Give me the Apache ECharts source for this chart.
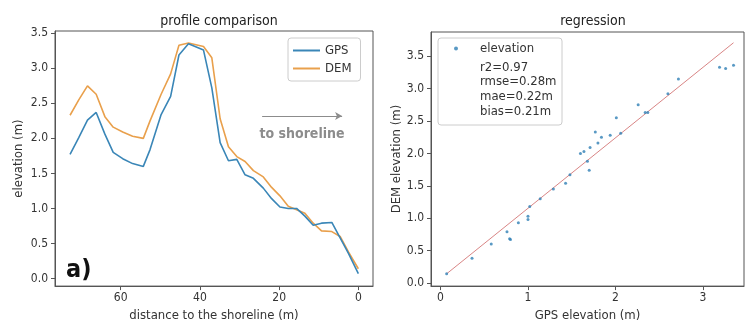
<!DOCTYPE html>
<html>
<head>
<meta charset="utf-8">
<script src="https://cdn.jsdelivr.net/npm/echarts@6/dist/echarts.min.js"></script>
<style>
  html, body { margin: 0; padding: 0; background: #fff; }
  #chart { width: 747px; height: 327px; }
</style>
</head>
<body>
<div id="chart"></div>
<script>
// Cross-shore profile: distance to the shoreline (m) and elevations (m)
const distance = [72.8, 70.6, 68.4, 66.2, 64.0, 61.9, 59.5, 57.0, 54.3, 52.6, 49.8, 47.4, 45.3, 42.9, 39.1, 37.0,
                  34.9, 32.8, 30.7, 28.6, 26.5, 24.0, 21.9, 19.8, 17.7, 15.6, 13.5, 11.4, 9.3, 6.7, 4.6, 2.5, 0.0];
const gps = [1.77, 2.01, 2.26, 2.37, 2.06, 1.80, 1.71, 1.64, 1.60, 1.84, 2.34, 2.60, 3.19, 3.35, 3.26, 2.72,
             1.94, 1.68, 1.70, 1.48, 1.43, 1.29, 1.14, 1.02, 1.00, 1.00, 0.89, 0.76, 0.79, 0.80, 0.58, 0.36, 0.07];
const dem = [2.33, 2.55, 2.75, 2.63, 2.31, 2.16, 2.09, 2.03, 2.00, 2.25, 2.63, 2.92, 3.33, 3.36, 3.31, 3.15,
             2.28, 1.88, 1.74, 1.67, 1.54, 1.45, 1.30, 1.18, 1.03, 0.98, 0.93, 0.79, 0.68, 0.67, 0.60, 0.38, 0.14];

// Least-squares fit of DEM on GPS and summary statistics
const fitSlope = 1.088;
const fitIntercept = 0.064;
const statLines = ['r2=0.97', 'rmse=0.28m', 'mae=0.22m', 'bias=0.21m'];

// Tick positions
const distanceTicks = [0, 20, 40, 60];
const elevationTicks = [0, 0.5, 1, 1.5, 2, 2.5, 3, 3.5];
const gpsTicks = [0, 1, 2, 3];

const FONT = "'DejaVu Sans Condensed', 'DejaVu Sans', sans-serif";
const INK = '#333';
const GPS_COLOR = '#3a86b7';
const DEM_COLOR = '#e9a04c';
const DOT_COLOR = '#2f7fb5';
const FIT_COLOR = '#d98585';

function axisBase(extra) {
  return Object.assign({
    type: 'value',
    splitLine: { show: false },
    axisLine: { show: true, onZero: false, lineStyle: { color: '#555', width: 1 } },
    nameTextStyle: { color: INK, fontSize: 13, fontFamily: FONT },
    nameLocation: 'middle'
  }, extra);
}
function ticks(values, margin, fmt) {
  return {
    axisTick: { show: true, length: 4, customValues: values, lineStyle: { color: '#555' } },
    axisLabel: { customValues: values, margin: margin, color: INK, fontSize: 12, fontFamily: FONT,
                 formatter: fmt || (v => String(v)) }
  };
}

const gMin = Math.min(...gps), gMax = Math.max(...gps);
const fitLine = [[gMin, fitSlope * gMin + fitIntercept], [gMax, fitSlope * gMax + fitIntercept]];

const chart = echarts.init(document.getElementById('chart'), null, { renderer: 'canvas' });

chart.setOption({
  animation: false,
  backgroundColor: '#fff',
  textStyle: { fontFamily: FONT },
  title: [
    { text: 'profile comparison', left: 214, top: 9, textAlign: 'center',
      textStyle: { fontSize: 14, fontWeight: 'normal', color: '#222', fontFamily: FONT } },
    { text: 'regression', left: 588, top: 9, textAlign: 'center',
      textStyle: { fontSize: 14, fontWeight: 'normal', color: '#222', fontFamily: FONT } }
  ],
  grid: [
    { left: 55, top: 31, width: 318, height: 259, show: true, borderColor: '#555', borderWidth: 1, backgroundColor: '#fff' },
    { left: 431, top: 32, width: 313, height: 258, show: true, borderColor: '#555', borderWidth: 1, backgroundColor: '#fff' }
  ],
  xAxis: [
    axisBase(Object.assign({ gridIndex: 0, inverse: true, min: -3.7, max: 76.6,
      name: 'distance to the shoreline (m)', nameGap: 22 }, ticks(distanceTicks, 6))),
    axisBase(Object.assign({ gridIndex: 1, min: -0.109, max: 3.47,
      name: 'GPS elevation (m)', nameGap: 22 }, ticks(gpsTicks, 6)))
  ],
  yAxis: [
    axisBase(Object.assign({ gridIndex: 0, min: -0.108, max: 3.532,
      name: 'elevation (m)', nameGap: 30 }, ticks(elevationTicks, 7, v => v.toFixed(1)))),
    axisBase(Object.assign({ gridIndex: 1, min: -0.05, max: 3.875,
      name: 'DEM elevation (m)', nameGap: 27 }, ticks(elevationTicks, 7, v => v.toFixed(1))))
  ],
  legend: [
    { data: [{ name: 'GPS', icon: 'rect' }, { name: 'DEM', icon: 'rect' }],
      orient: 'vertical', left: 288, top: 38,
      itemWidth: 27, itemHeight: 2, itemGap: 5,
      padding: [6, 9, 6, 5], borderColor: '#ccc', borderWidth: 1, borderRadius: 3,
      backgroundColor: 'rgba(255,255,255,0.85)',
      textStyle: { fontSize: 13, color: INK, fontFamily: FONT } },
    { data: [{ name: 'elevation', icon: 'circle' }], orient: 'vertical', left: 454, top: 42,
      itemWidth: 4, itemHeight: 4, padding: 0,
      textStyle: { fontSize: 13, color: INK, fontFamily: FONT, padding: [0, 0, 0, 17] } }
  ],
  series: [
    { name: 'GPS', type: 'line', xAxisIndex: 0, yAxisIndex: 0, symbol: 'none',
      data: distance.map((d, i) => [d, gps[i]]),
      lineStyle: { color: GPS_COLOR, width: 1.6 }, itemStyle: { color: GPS_COLOR }, z: 3,
      markLine: {
        silent: true, symbol: ['none', 'arrow'], symbolSize: [6, 7],
        label: { show: false },
        lineStyle: { color: '#8c8c8c', width: 1, type: 'solid' },
        data: [[{ coord: [24.3, 2.32] }, { coord: [4.1, 2.32] }]]
      } },
    { name: 'DEM', type: 'line', xAxisIndex: 0, yAxisIndex: 0, symbol: 'none',
      data: distance.map((d, i) => [d, dem[i]]),
      lineStyle: { color: DEM_COLOR, width: 1.6 }, itemStyle: { color: DEM_COLOR }, z: 2 },
    { name: 'fit', type: 'line', xAxisIndex: 1, yAxisIndex: 1, symbol: 'none',
      data: fitLine, lineStyle: { color: FIT_COLOR, width: 1 }, z: 2, silent: true },
    { name: 'elevation', type: 'scatter', xAxisIndex: 1, yAxisIndex: 1, symbol: 'circle', symbolSize: 3,
      data: gps.map((g, i) => [g, dem[i]]), itemStyle: { color: DOT_COLOR }, z: 3 }
  ],
  graphic: [
    { type: 'rect', shape: { x: 438, y: 38, width: 124, height: 87, r: 3 }, z: 1,
      style: { fill: 'rgba(255,255,255,0.85)', stroke: '#ccc', lineWidth: 1 } },
    { type: 'text', x: 480, y: 60, z: 5,
      style: { text: statLines.join('\n'), fontSize: 13, lineHeight: 14.7, fill: INK, fontFamily: FONT } },
    { type: 'text', x: 302, y: 134, z: 5,
      style: { text: 'to shoreline', fontSize: 14, fontWeight: 'bold', fill: '#8c8c8c', fontFamily: FONT,
               align: 'center', verticalAlign: 'middle' } },
    { type: 'text', x: 66, y: 270, z: 5,
      style: { text: 'a)', fontSize: 25, fontWeight: 'bold', fill: '#111', fontFamily: FONT,
               align: 'left', verticalAlign: 'middle' } }
  ]
});
</script>
</body>
</html>
